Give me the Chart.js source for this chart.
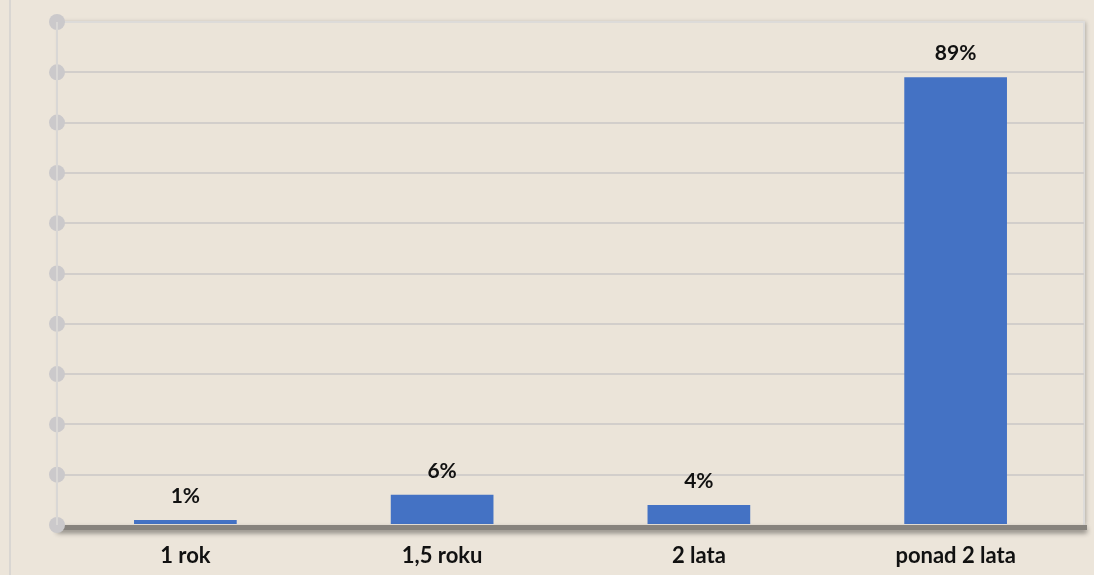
<!DOCTYPE html>
<html>
<head>
<meta charset="utf-8">
<script src="https://cdn.jsdelivr.net/npm/chart.js@4/dist/chart.umd.min.js"></script>
<style>
  html, body { margin: 0; padding: 0; background: #ece5da; }
  #wrap { width: 1094px; height: 575px; position: relative; }
</style>
</head>
<body>
<div id="wrap"><canvas id="chart"></canvas></div>
<script>
var categories = ["1 rok", "1,5 roku", "2 lata", "ponad 2 lata"];
var values = [1, 6, 4, 89];
var yTicks = [0, 10, 20, 30, 40, 50, 60, 70, 80, 90, 100];

// background, walls, floor and dots behind the bars
var decorPlugin = {
    id: 'decor',
    beforeDraw: function(chart) {
        var c = chart.ctx, a = chart.chartArea;
        c.save();
        c.fillStyle = '#ece5da';
        c.fillRect(0, 0, chart.width, chart.height);
        c.fillStyle = '#d9d6d2';
        c.fillRect(9, 0, 2, chart.height);
        // right wall shadow
        c.shadowColor = 'rgba(0,0,0,0.25)';
        c.shadowBlur = 4;
        c.shadowOffsetX = 2;
        c.fillStyle = '#ebe4d9';
        c.fillRect(a.left, a.top, a.right - a.left, a.bottom - a.top);
        c.restore();
        c.save();
        c.strokeStyle = '#dddbd9';
        c.lineWidth = 2;
        c.beginPath();
        c.moveTo(a.left, a.top); c.lineTo(a.right, a.top); c.lineTo(a.right, a.bottom);
        c.moveTo(a.left, a.top); c.lineTo(a.left, a.bottom);
        c.stroke();
        c.restore();
    },
    afterDatasetsDraw: function(chart) {
        var c = chart.ctx, a = chart.chartArea, y = chart.scales.y;
        c.save();
        // floor
        c.shadowColor = 'rgba(0,0,0,0.45)';
        c.shadowBlur = 5;
        c.shadowOffsetY = 3;
        c.fillStyle = '#87837d';
        c.fillRect(a.left, a.bottom, a.right - a.left + 3, 5);
        c.restore();
        c.save();
        c.fillStyle = '#cbc9cb';
        yTicks.forEach(function(v) {
            c.beginPath();
            c.arc(a.left, y.getPixelForValue(v), 8, 0, Math.PI * 2);
            c.fill();
        });
        c.fillStyle = '#d9d7d5';
        c.fillRect(a.left - 1, a.top, 2, a.bottom - a.top);
        // value labels
        c.fillStyle = '#111';
        c.font = 'bold 21px Lato';
        c.textAlign = 'center';
        c.textBaseline = 'alphabetic';
        chart.getDatasetMeta(0).data.forEach(function(bar, i) {
            c.fillText(values[i] + '%', bar.x, bar.y - 17);
        });
        c.restore();
    }
};

var config = {
    type: 'bar',
    data: {
        labels: categories,
        datasets: [
            {
                data: values,
                backgroundColor: '#4472c4',
                categoryPercentage: 1,
                barPercentage: 0.4
            }
        ]
    },
    options: {
        responsive: true,
        maintainAspectRatio: false,
        animation: false,
        layout: { padding: { left: 57, top: 22, right: 10, bottom: 0 } },
        plugins: {
            legend: { display: false },
            tooltip: { enabled: false }
        },
        scales: {
            x: {
                grid: { display: false, drawTicks: false },
                border: { display: false },
                ticks: {
                    color: '#111',
                    font: { family: 'Lato', weight: 'bold', size: 22 },
                    padding: 18
                },
                afterFit: function(s) { s.height = 50; }
            },
            y: {
                min: 0,
                max: 100,
                border: { display: false },
                grid: {
                    drawTicks: false,
                    lineWidth: 2,
                    color: function(ctx) {
                        if (ctx.tick.value === 0) return 'rgba(0,0,0,0)';
                        if (ctx.tick.value === 100) return '#dddbd9';
                        return '#d2cecb';
                    }
                },
                ticks: { display: false, stepSize: 10 },
                afterFit: function(s) { s.width = 0; }
            }
        }
    },
    plugins: [decorPlugin]
};

var ctx = document.getElementById("chart").getContext("2d");
var mainChart = new Chart(ctx, config);
</script>
</body>
</html>
